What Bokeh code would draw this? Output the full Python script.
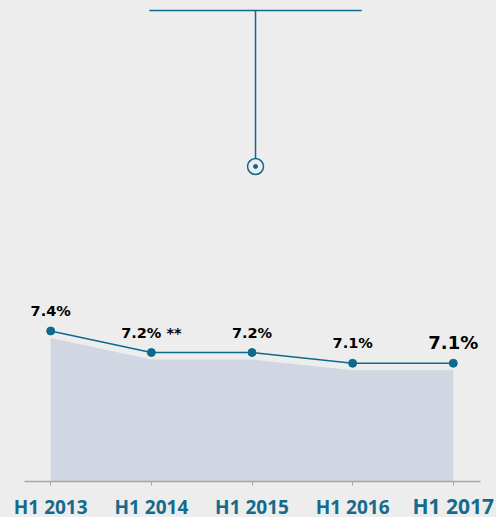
from bokeh.plotting import figure
from bokeh.models import ColumnDataSource, FixedTicker, Range1d
from bokeh.embed import file_html
from bokeh.resources import INLINE
from bokeh.core.properties import value

try:
    from bokeh.models import GlobalInlineStyleSheet
except Exception:
    GlobalInlineStyleSheet = None

# ---- data ----
categories = ["H1 2013", "H1 2014", "H1 2015", "H1 2016", "H1 2017"]
rates = [7.4, 7.2, 7.2, 7.1, 7.1]
label_suffix = ["", " **", "", "", ""]

# ---- styles ----
BG = "#ededed"
LINE = "#0e6a8c"
AREA = "#d0d6e2"
LABEL_COLOR = "#146b8c"
TEXT = "#000000"
AXIS_COLOR = "#a6a6a6"
Y_START = 6.0          # baseline value of the area / axis
PX_PER_UNIT = 107.5
AREA_DROP = 0.065
label_offsets = [-20, -20, -20, -20, -21]
label_sizes = ["14.5px", "14.5px", "14.5px", "14.5px", "18px"]
cat_sizes = ["19px", "19px", "19px", "19px", "21px"]
cat_offsets = [25, 25, 25, 25, 24]
AXIS_PX = 481          # pixel row of the axis line from top of frame
X_PX_PER_UNIT = 100.65
FIRST_X_PX = 50.2
AXIS_EXT = (-0.26, 4.27)

W, H = 496, 517
BORDER_B = 2
frame_h = H - BORDER_B
Y_LO = Y_START - (frame_h - AXIS_PX) / PX_PER_UNIT
Y_HI = Y_START + AXIS_PX / PX_PER_UNIT
X_LO = -FIRST_X_PX / X_PX_PER_UNIT
X_HI = X_LO + W / X_PX_PER_UNIT

idx = list(range(len(categories)))
area_top = [r - AREA_DROP for r in rates]
labels = [f"{r:.1f}%{s}" for r, s in zip(rates, label_suffix)]

src = ColumnDataSource(dict(x=idx, y=rates, top=area_top, base=[Y_START] * len(idx),
                            label=labels, off=label_offsets, fs=label_sizes,
                            cat=categories, cfs=cat_sizes, coff=cat_offsets))

p = figure(width=W, height=H, output_backend="svg", toolbar_location=None,
           x_range=Range1d(X_LO, X_HI), y_range=Range1d(Y_LO, Y_HI),
           y_axis_location=None, min_border_left=0, min_border_right=0,
           min_border_top=0, min_border_bottom=BORDER_B)
p.background_fill_color = BG
p.border_fill_color = BG
p.outline_line_color = None
p.grid.visible = False

if GlobalInlineStyleSheet is not None:
    p.stylesheets = [GlobalInlineStyleSheet(css="body{background-color:#ededed;}")]

# area
p.varea(x="x", y1="base", y2="top", source=src, fill_color=AREA, fill_alpha=1.0)
# line + markers
p.line("x", "y", source=src, line_color=LINE, line_width=1.6)
p.scatter("x", "y", source=src, size=8, fill_color=LINE, line_color=LINE)
# value labels
p.text("x", "y", text="label", source=src, y_offset="off", text_font_size="fs",
       text_align="center", text_baseline="alphabetic", text_color=TEXT,
       text_font=value("DejaVu Sans"), text_font_style="bold")

# decorative pin at top
DECO_X = 2.035
DECO_L, DECO_R = 0.98, 3.09
DECO_TOP = Y_START + (AXIS_PX - 10) / PX_PER_UNIT
DECO_PIN = Y_START + (AXIS_PX - 166) / PX_PER_UNIT
p.segment(x0=[DECO_L], y0=[DECO_TOP], x1=[DECO_R], y1=[DECO_TOP], line_color=LINE, line_width=1.5)
p.segment(x0=[DECO_X], y0=[DECO_TOP], x1=[DECO_X], y1=[DECO_PIN], line_color=LINE, line_width=1.5)
p.scatter(x=[DECO_X], y=[DECO_PIN], size=16, fill_color=BG, line_color=LINE, line_width=1.5)
p.scatter(x=[DECO_X], y=[DECO_PIN], size=4, fill_color=LINE, line_color=LINE)

# baseline rule (axis line) over the plotted extent
p.segment(x0=[AXIS_EXT[0]], y0=[Y_START], x1=[AXIS_EXT[1]], y1=[Y_START],
          line_color=AXIS_COLOR, line_width=1.5)

# x axis ticks at the baseline value; category names below each tick
ax = p.xaxis[0]
ax.fixed_location = Y_START
ax.ticker = FixedTicker(ticks=idx)
ax.major_label_overrides = {i: "" for i in idx}
ax.axis_line_color = None
ax.major_tick_line_color = AXIS_COLOR
ax.major_tick_in = -4
ax.major_tick_out = 0
ax.minor_tick_line_color = None
ax.major_label_standoff = 0
ax.major_label_text_font_size = "1px"

p.text("x", "base", text="cat", source=src, y_offset="coff", text_font_size="cfs",
       text_align="center", text_baseline="alphabetic", text_color=LABEL_COLOR,
       text_font=value("Open Sans"), text_font_style="bold")

open("out.html", "w").write(file_html(p, INLINE))
